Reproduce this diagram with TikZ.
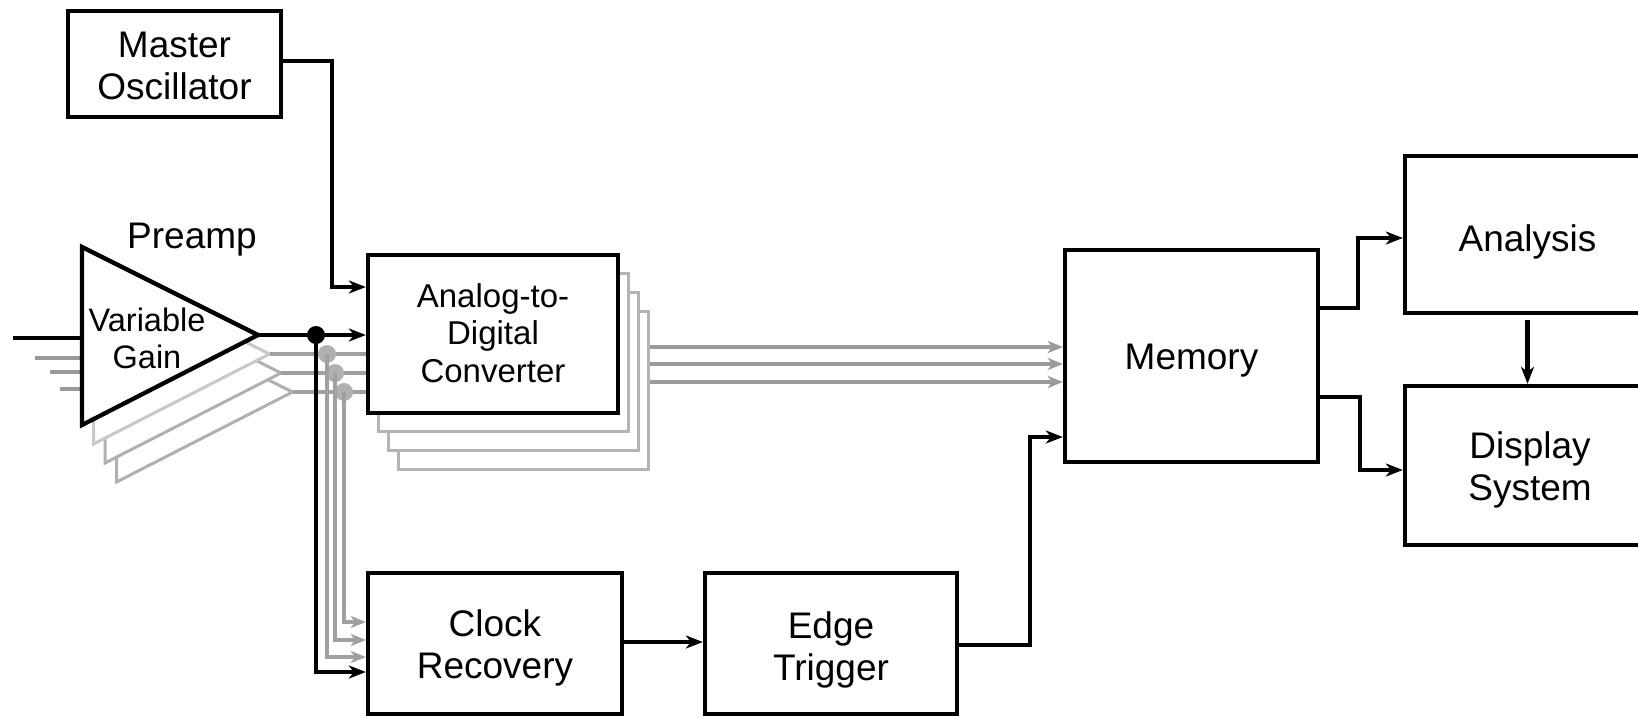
\documentclass[tikz,border=0pt]{standalone}
\usepackage{fontspec}
\setmainfont{Liberation Sans}
\usetikzlibrary{arrows.meta}
\definecolor{shA}{HTML}{C8C8C8}
\definecolor{shB}{HTML}{B0B0B0}
\definecolor{shC}{HTML}{B4B4B4}
\definecolor{gline}{HTML}{A0A0A0}
\definecolor{garr}{HTML}{9A9A9A}
\begin{document}
\begin{tikzpicture}[x=1pt,y={(0pt,-1pt)},
  blk/.style={line width=4.3pt,draw=black},
  gry/.style={line width=3.2pt,draw=gline},
  box/.style={draw,line width=4.3pt,fill=white,inner sep=0pt},
  lbl/.style={inner sep=0pt,align=center,font=\fontsize{37}{42}\selectfont},
  adcshadow/.style={draw=shC,line width=3pt,fill=white,inner sep=0pt,
    minimum width=250pt,minimum height=158pt},
  arr/.style={-{Stealth[length=17pt,width=13pt,inset=5pt]}},
  garrow/.style={-{Stealth[length=15pt,width=12pt,inset=4pt]}},
  dotb/.style={circle,fill=black,inner sep=0pt,minimum size=18pt},
  dotg/.style={circle,fill=shB,inner sep=0pt,minimum size=18pt}]
\clip (0,0) rectangle (1638,718);
\fill[white] (0,0) rectangle (1638,718);

% Master oscillator
\node[box,minimum width=213pt,minimum height=106pt,
  label={[lbl,yshift=-1.5pt]center:Master\\Oscillator}] (mo) at (174.5,64) {};

% Preamp label
\node[lbl] (pre) at (192,240) {Preamp};

% input stubs
\coordinate (in0) at (13,338);
\coordinate (in1) at (35,358);
\coordinate (in2) at (50,372);
\coordinate (in3) at (60,389);
\draw[blk] (in0) -- (82,338);
\draw[line width=3.2pt,draw=garr] (in1) -- (82,358);
\draw[line width=3.2pt,draw=garr] (in2) -- (82,372);
\draw[line width=3.2pt,draw=garr] (in3) -- (82,389);

% shadow amplifiers
\draw[draw=shB,line width=3pt,fill=white] (116.5,304) -- (116.5,482) -- (292.5,392) -- cycle;
\draw[draw=shB,line width=3pt,fill=white] (105,285) -- (105,463) -- (281,373) -- cycle;
\draw[draw=shA,line width=3pt,fill=white] (93.5,266) -- (93.5,444) -- (269.5,354) -- cycle;
% main amplifier
\draw[blk,fill=white] (82,247) -- (82,425) -- (258,335) -- cycle;
\node[inner sep=0pt,align=center,font=\fontsize{32.5}{37}\selectfont] (vg) at (147,338) {Variable\\Gain};
\coordinate (tip) at (258,335);
\coordinate (t1) at (269.5,354);
\coordinate (t2) at (281,373);
\coordinate (t3) at (292.5,392);

% ADC stack
\node[adcshadow] (adc3) at (523,390) {};
\node[adcshadow] (adc2) at (513,371.4) {};
\node[adcshadow] (adc1) at (503,352.7) {};
\node[box,minimum width=250pt,minimum height=158pt,
  label={[lbl,font=\fontsize{33}{37.5}\selectfont,yshift=1pt]center:Analog-to-\\Digital\\Converter}] (adc) at (493,334) {};

% Clock recovery, edge trigger
\node[box,minimum width=254pt,minimum height=141pt,
  label={[lbl,yshift=-4pt]center:Clock\\Recovery}] (cr) at (495,643.5) {};
\node[box,minimum width=252pt,minimum height=141pt,
  label={[lbl,yshift=-6.5pt]center:Edge\\Trigger}] (et) at (831,643.5) {};

% Memory, Analysis, Display
\node[box,minimum width=253pt,minimum height=212pt,
  label={[lbl,yshift=-5pt]center:Memory}] (mem) at (1191.5,356) {};
\node[box,minimum width=245pt,minimum height=157pt,
  label={[lbl,yshift=-7pt]center:Analysis}] (ana) at (1527.5,234.5) {};
\node[box,minimum width=250pt,minimum height=159pt,
  label={[lbl,yshift=-4pt]center:Display\\System}] (dis) at (1530,465.5) {};

% gray signal paths
\draw[gry] (t1) -- (adc.west |- t1);
\draw[gry] (t2) -- (adc.west |- t2);
\draw[gry] (t3) -- (adc.west |- t3);
\node[dotg] (g3) at (344,392) {};
\node[dotg] (g2) at (335,373) {};
\node[dotg] (g1) at (327,354) {};
\draw[gry,garrow] (g3.center) -- (g3.center |- 0,622) -- (cr.west |- 0,622);
\draw[gry,garrow] (g2.center) -- (g2.center |- 0,640) -- (cr.west |- 0,640);
\draw[gry,garrow] (g1.center) -- (g1.center |- 0,657) -- (cr.west |- 0,657);

% black main path
\draw[blk,arr] (tip) -- (adc.west |- tip);
\node[dotb] (d0) at (316,335) {};
\draw[blk,arr] (d0.center) -- (d0.center |- 0,672) -- (cr.west |- 0,672);

% master oscillator to ADC
\draw[blk,arr] (mo.east |- 0,61) -- (332,61) -- (332,287) -- (adc.west |- 0,287);

% ADC to memory
\draw[line width=3.5pt,draw=garr,garrow] (adc3.east |- 0,347) -- (mem.west |- 0,347);
\draw[line width=3.5pt,draw=garr,garrow] (adc3.east |- 0,364) -- (mem.west |- 0,364);
\draw[line width=3.5pt,draw=garr,garrow] (adc3.east |- 0,382) -- (mem.west |- 0,382);

% clock recovery -> edge trigger -> memory
\draw[blk,arr] (cr.east |- 0,642) -- (et.west |- 0,642);
\draw[blk,arr] (et.east |- 0,645) -- (1030,645) -- (1030,437) -- (mem.west |- 0,437);

% memory -> analysis / display
\draw[blk,arr] (mem.east |- 0,308) -- (1358,308) -- (1358,238) -- (ana.west |- 0,238);
\draw[blk,arr] (mem.east |- 0,397) -- (1360,397) -- (1360,470) -- (dis.west |- 0,470);
\draw[blk,arr,shorten <=5pt] (ana.south) -- (ana.south |- dis.north);
\end{tikzpicture}
\end{document}
